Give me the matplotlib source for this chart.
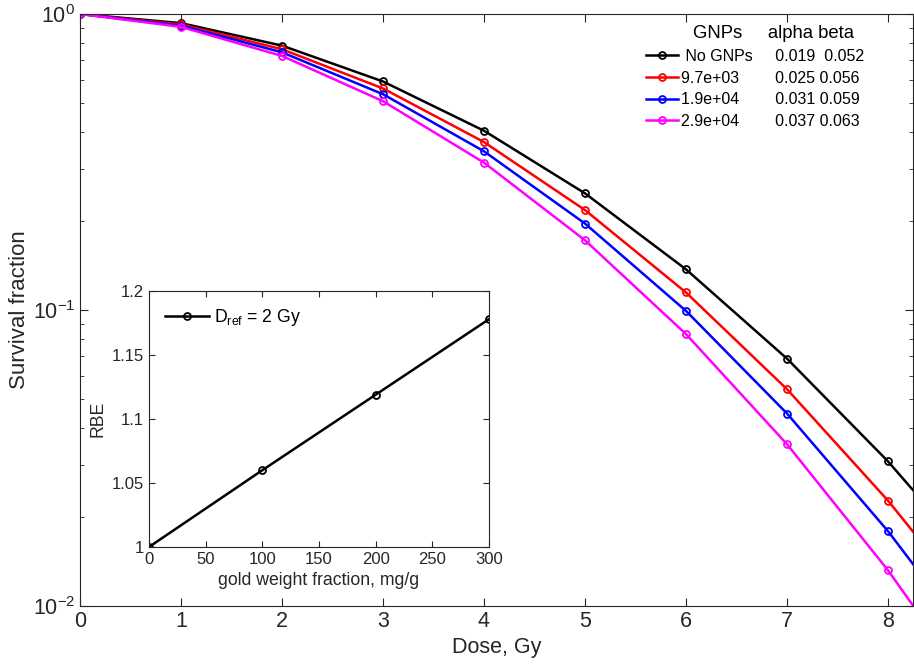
import numpy as np
import matplotlib.pyplot as plt

plt.rcParams['font.family'] = ['Liberation Sans', 'DejaVu Sans']
plt.rcParams['mathtext.fontset'] = 'custom'
plt.rcParams['mathtext.rm'] = 'Liberation Sans'
plt.rcParams['mathtext.it'] = 'Liberation Sans:italic'
plt.rcParams['mathtext.bf'] = 'Liberation Sans:bold'

# survival fractions vs dose for each GNP concentration
dose = [0, 1, 2, 3, 4, 5, 6, 7, 8, 9]
sf_none = [1.0, 0.9315, 0.7819, 0.5916, 0.4033, 0.2478, 0.1372, 0.0685, 0.0308, 0.01249]
sf_97e3 = [1.0, 0.9222, 0.7603, 0.5604, 0.3693, 0.2176, 0.1146, 0.0540, 0.0227, 0.00856]
sf_19e4 = [1.0, 0.9139, 0.7423, 0.5358, 0.3437, 0.1959, 0.0993, 0.0447, 0.0179, 0.00636]
sf_29e4 = [1.0, 0.9048, 0.7218, 0.5076, 0.3147, 0.1720, 0.0829, 0.0352, 0.0132, 0.00436]

labels = ['No GNPs', '9.7e+03', '1.9e+04', '2.9e+04']
alphas = ['0.019', '0.025', '0.031', '0.037']
betas = ['0.052', '0.056', '0.059', '0.063']
colors = ['k', '#ff0000', '#0000ff', '#ff00ff']

# RBE inset
gold = [0, 100, 200, 300]
rbe = [1.0, 1.060, 1.119, 1.178]

axcol = '#262626'
fig = plt.figure(figsize=(9.14, 6.7), dpi=100)
ax = fig.add_axes([0.0875, 0.0955, 0.9117, 0.8836])

series = [sf_none, sf_97e3, sf_19e4, sf_29e4]
for sf, c, lab, a, b in zip(series, colors, labels, alphas, betas):
    if lab == 'No GNPs':
        txt = ' No GNPs     %s  %s' % (a, b)
    else:
        txt = '%s        %s %s' % (lab, a, b)
    ax.plot(dose, sf, '-o', color=c, lw=1.8, ms=5, mfc='none', mew=1.3, label=txt)

ax.set_yscale('log')
ax.set_xlim(0, 8.25)
ax.set_ylim(1e-2, 1)
ax.set_xticks(range(0, 9))
ax.tick_params(which='both', direction='in', colors=axcol, labelsize=15.5, top=True, right=True)
ax.tick_params(which='major', length=6)
ax.tick_params(which='minor', length=3)
for s in ax.spines.values():
    s.set_color(axcol)
ax.set_xlabel('Dose, Gy', fontsize=15.5, color=axcol)
ax.set_ylabel('Survival fraction', fontsize=16, color=axcol)
ax.yaxis.set_label_coords(-0.06, 0.5)

leg = ax.legend(loc='upper right', bbox_to_anchor=(0.955, 1.0), frameon=False, fontsize=11.5,
                title='GNPs     alpha beta  ', title_fontsize=13.3, handlelength=2.0,
                handletextpad=0.2, labelspacing=0.42, borderaxespad=0.3, alignment='right')

ins = fig.add_axes([0.163, 0.1836, 0.372, 0.382])
ins.plot(gold, rbe, '-o', color='k', lw=1.8, ms=5, mfc='none', mew=1.3, label=r'D$_{\rm ref}$ = 2 Gy')
ins.set_xlim(0, 300)
ins.set_ylim(1, 1.2)
ins.set_xticks(np.arange(0, 301, 50))
ins.set_yticks([1, 1.05, 1.1, 1.15, 1.2])
ins.set_yticklabels(['1', '1.05', '1.1', '1.15', '1.2'])
ins.tick_params(direction='in', colors=axcol, labelsize=12, top=True, right=True, length=4)
for s in ins.spines.values():
    s.set_color(axcol)
ins.set_xlabel('gold weight fraction, mg/g', fontsize=12.7, color=axcol)
ins.set_ylabel('RBE', fontsize=12.7, color=axcol)
ins.legend(loc='upper left', frameon=False, fontsize=12.7, handlelength=2.5, handletextpad=0.3)

fig.savefig('out.png', dpi=100)
